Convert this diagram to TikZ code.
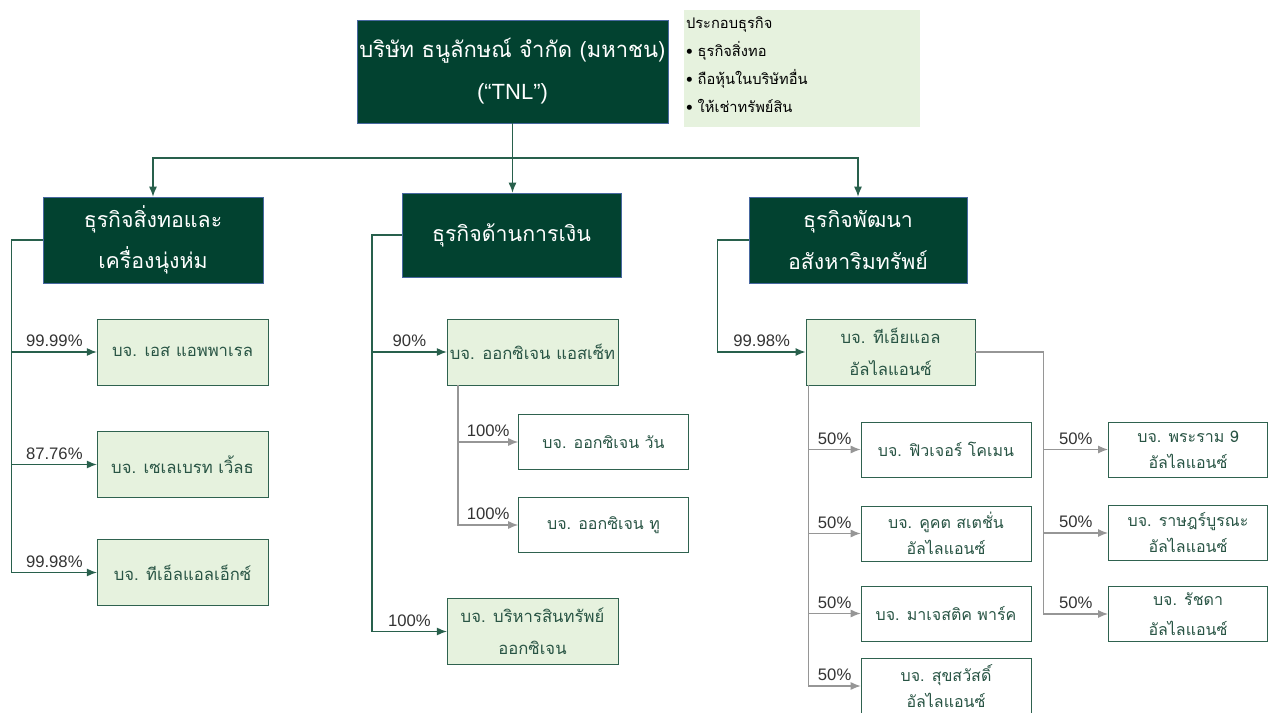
\documentclass[tikz,border=0pt]{standalone}
\usepackage{fontspec}
\setmainfont[Script=Thai]{Loma}
\newfontfamily\latinfont{Liberation Sans}
\usepackage{tikz}
\usetikzlibrary{arrows.meta, positioning}
\tikzset{>={Latex[length=7.5pt,width=6pt]}}
\definecolor{tnlgreen}{RGB}{2,66,48}
\definecolor{tnlline}{RGB}{40,96,76}
\definecolor{tnlpale}{RGB}{230,242,222}
\definecolor{tnledge}{RGB}{47,98,79}
\definecolor{tnlblue}{RGB}{72,104,160}
\definecolor{tnlgrey}{RGB}{150,150,150}
\definecolor{tnltext}{RGB}{40,84,68}
\tikzset{
  headbox/.style={draw=tnlblue, fill=tnlgreen, text=white, align=center, inner sep=2pt,
    font=\fontsize{16}{31}\selectfont},
  subbox/.style={draw=tnledge, fill=tnlpale, text=tnltext, align=center, inner sep=1pt,
    minimum width=128pt, minimum height=49.5pt, font=\fontsize{12.5}{24}\selectfont},
  leafbox/.style={draw=tnledge, fill=white, text=tnltext, align=center, inner sep=1pt,
    minimum width=127.5pt, minimum height=41pt, font=\fontsize{12}{19.5}\selectfont},
  pct/.style={above, text=black!80, font=\latinfont\fontsize{12.5}{14}\selectfont},
  trunk/.style={draw=tnlline, line width=1pt},
  twig/.style={draw=tnlgrey, line width=1pt}
}

\begin{document}
\begin{tikzpicture}[x=0.75pt, y=-0.75pt]
\useasboundingbox (0,0) rectangle (1268,713);

\node[headbox, minimum width=233pt, minimum height=77pt, font=\fontsize{16.5}{31.5}\selectfont] (tnl) at (512.5,71.5)
  {บริษัท ธนูลักษณ์ จำกัด (มหาชน)\\{\latinfont(“TNL”)}};
\node[fill=tnlpale, minimum width=177pt, minimum height=88pt, inner sep=0pt] (info) at (802,68.5) {};
\node[anchor=north west, text width=172pt, align=left, inner sep=1.5pt, font=\fontsize{11}{21}\selectfont]
  (infotext) at ([yshift=-3.5pt]info.north west)
  {ประกอบธุรกิจ\\ \textbullet\ ธุรกิจสิ่งทอ\\ \textbullet\ ถือหุ้นในบริษัทอื่น\\ \textbullet\ ให้เช่าทรัพย์สิน};

\node[headbox, minimum width=165pt, minimum height=64.5pt] (b1) at (153,240) {ธุรกิจสิ่งทอและ\\เครื่องนุ่งห่ม};
\node[headbox, minimum width=164pt, minimum height=63pt] (b2) at (511.5,235) {ธุรกิจด้านการเงิน};
\node[headbox, minimum width=163.5pt, minimum height=64.5pt] (b3) at (858,240) {ธุรกิจพัฒนา\\อสังหาริมทรัพย์};

\node[subbox] (s11) at (182.5,352) {บจ. เอส แอพพาเรล};
\node[subbox] (s12) at (182.5,464.5) {บจ. เซเลเบรท เวิ้ลธ};
\node[subbox] (s13) at (182.5,572.5) {บจ. ทีเอ็ลแอลเอ็กซ์};

\node[subbox] (ox) at (532.5,352) {บจ. ออกซิเจน แอสเซ็ท};
\node[leafbox] (ox1) at (603.5,442) {บจ. ออกซิเจน วัน};
\node[leafbox] (ox2) at (603.5,525) {บจ. ออกซิเจน ทู};
\node[subbox] (oxa) at (532.5,631.5) {บจ. บริหารสินทรัพย์\\ออกซิเจน};

\node[subbox, minimum width=127pt] (ta) at (890.5,352) {บจ. ทีเอ็ยแอล\\อัลไลแอนซ์};
\node[leafbox] (ta1) at (946,449.5) {บจ. ฟิวเจอร์ โคเมน};
\node[leafbox] (ta2) at (946,533.5) {บจ. คูคต สเตชั่น\\อัลไลแอนซ์};
\node[leafbox] (ta3) at (946,613.5) {บจ. มาเจสติค พาร์ค};
\node[leafbox] (ta4) at (946,686) {บจ. สุขสวัสดิ์\\อัลไลแอนซ์};
\node[leafbox, minimum width=119.5pt] (tb1) at (1188,449.5) {บจ. พระราม 9\\อัลไลแอนซ์};
\node[leafbox, minimum width=119.5pt] (tb2) at (1188,533) {บจ. ราษฎร์บูรณะ\\อัลไลแอนซ์};
\node[leafbox, minimum width=119.5pt, font=\fontsize{12}{22}\selectfont] (tb3) at (1188,614) {บจ. รัชดา\\อัลไลแอนซ์};

\draw[trunk,->] (tnl.south) -- ++(0,35) -| (b1.north);
\draw[trunk,->] (tnl.south) -- (tnl.south |- b2.north);
\draw[trunk,->] (tnl.south) -- ++(0,35) -| (b3.north);

\draw[trunk,->] (b1.west) -- ++(-31,0) |- node[pct,pos=.75] (p11) {99.99\%} (s11.west);
\draw[trunk,->] (b1.west) -- ++(-31,0) |- node[pct,pos=.75] (p12) {87.76\%} (s12.west);
\draw[trunk,->] (b1.west) -- ++(-31,0) |- node[pct,pos=.75] (p13) {99.98\%} (s13.west);

\draw[trunk,->] (b2.west) -- ++(-30,0) |- node[pct,pos=.75] (p21) {90\%} (ox.west);
\draw[trunk,->] (b2.west) -- ++(-30,0) |- node[pct,pos=.75] (p22) {100\%} (oxa.west);
\draw[twig,->] ([xshift=8.25pt]ox.south west) |- node[pct,pos=.75] (p23) {100\%} (ox1.west);
\draw[twig,->] ([xshift=8.25pt]ox.south west) |- node[pct,pos=.75] (p24) {100\%} (ox2.west);

\draw[trunk,->] (b3.west) -- ++(-31,0) |- node[pct,pos=.75] (p31) {99.98\%} (ta.west);
\draw[twig,->] ([xshift=2.25pt]ta.south west) |- node[pct,pos=.75] (p32) {50\%} (ta1.west);
\draw[twig,->] ([xshift=2.25pt]ta.south west) |- node[pct,pos=.75] (p33) {50\%} (ta2.west);
\draw[twig,->] ([xshift=2.25pt]ta.south west) |- node[pct,pos=.75] (p34) {50\%} (ta3.west);
\draw[twig,->] ([xshift=2.25pt]ta.south west) |- node[pct,pos=.75] (p35) {50\%} (ta4.west);
\draw[twig,->] (ta.east) -- ++(68,0) |- node[pct,pos=.75] (p36) {50\%} (tb1.west);
\draw[twig,->] (ta.east) -- ++(68,0) |- node[pct,pos=.75] (p37) {50\%} (tb2.west);
\draw[twig,->] (ta.east) -- ++(68,0) |- node[pct,pos=.75] (p38) {50\%} (tb3.west);

\end{tikzpicture}
\end{document}
